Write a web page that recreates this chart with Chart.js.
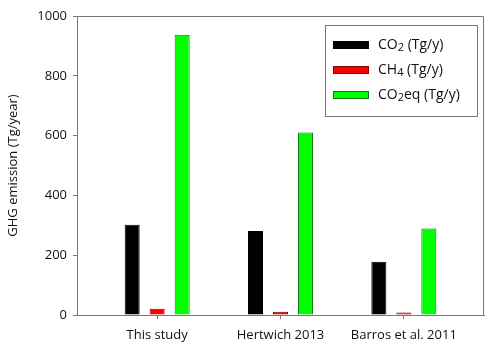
<script src="https://cdn.jsdelivr.net/npm/chart.js"></script>

<div style="width:500px; height:361px;">
    <canvas id="myChart"></canvas>
</div>

<script>
// Data
const categories = ['This study', 'Hertwich 2013', 'Barros et al. 2011'];
const co2 = [302, 281, 178];
const ch4 = [21, 11, 8];
const co2eq = [937, 610, 289];
const seriesNames = [['CO', '2', ' (Tg/y)'], ['CH', '4', ' (Tg/y)'], ['CO', '2', 'eq (Tg/y)']];
const yTicks = [0, 200, 400, 600, 800, 1000];

const FONT = 'Open Sans';
document.body.style.margin = '0';

function pts(arr) {
  return arr.map(function (v, i) { return { x: i, y: v }; });
}

// box around the plot + legend inside
const boxAndLegend = {
  id: 'boxAndLegend',
  afterDraw(chart) {
    const ctx = chart.ctx;
    const a = chart.chartArea;
    ctx.save();
    ctx.strokeStyle = '#777';
    ctx.lineWidth = 1;
    ctx.beginPath();
    ctx.moveTo(a.left, a.top + 0.5);
    ctx.lineTo(a.right - 0.5, a.top + 0.5);
    ctx.lineTo(a.right - 0.5, a.bottom);
    ctx.stroke();

    // legend box
    const lx = 325, ly = 25, lw = 152, lh = 91;
    ctx.fillStyle = '#fff';
    ctx.fillRect(lx, ly, lw, lh);
    ctx.strokeStyle = '#777';
    ctx.strokeRect(lx + 0.5, ly + 0.5, lw, lh);

    chart.data.datasets.forEach(function (ds, i) {
      const cy = 45 + i * 25;
      ctx.fillStyle = ds.backgroundColor;
      ctx.fillRect(333, cy - 4, 36, 8);
      ctx.strokeStyle = ds.borderColor;
      ctx.strokeRect(333.5, cy - 3.5, 35, 7);

      ctx.fillStyle = '#111';
      ctx.textBaseline = 'middle';
      let x = 378;
      const parts = seriesNames[i];
      ctx.font = '14px "' + FONT + '"';
      ctx.fillText(parts[0], x, cy);
      x += ctx.measureText(parts[0]).width;
      ctx.font = '11px "' + FONT + '"';
      ctx.fillText(parts[1], x, cy + 3);
      x += ctx.measureText(parts[1]).width;
      ctx.font = '14px "' + FONT + '"';
      ctx.fillText(parts[2], x, cy);
    });
    ctx.restore();
  }
};

const data = {
  datasets: [
    { label: 'CO2 (Tg/y)', data: pts(co2), backgroundColor: '#000000', borderColor: '#000000', borderWidth: 1 },
    { label: 'CH4 (Tg/y)', data: pts(ch4), backgroundColor: '#ff0000', borderColor: '#8b0000', borderWidth: 1 },
    { label: 'CO2eq (Tg/y)', data: pts(co2eq), backgroundColor: '#00ff00', borderColor: '#1a7a1a', borderWidth: 1 }
  ]
};

const config = {
  type: 'bar',
  data: data,
  plugins: [boxAndLegend],
  options: {
    responsive: false,
    animation: false,
    layout: { padding: { top: 16, right: 16, left: 5, bottom: 0 } },
    categoryPercentage: 0.608,
    barPercentage: 0.6,
    plugins: { legend: { display: false }, tooltip: { enabled: false } },
    scales: {
      x: {
        type: 'linear',
        offset: false,
        min: -0.65,
        max: 2.65,
        afterBuildTicks: function (scale) {
          scale.ticks = categories.map(function (c, i) { return { value: i }; });
        },
        afterFit: function (scale) { scale.height = 46; },
        ticks: {
          callback: function (v) { return categories[v]; },
          color: '#111',
          font: { family: FONT, size: 13 },
          padding: 8,
          maxRotation: 0,
          autoSkip: false
        },
        grid: { drawOnChartArea: false, offset: false, tickLength: 4, color: '#777' },
        border: { color: '#777' }
      },
      y: {
        min: 0,
        max: 1000,
        afterBuildTicks: function (scale) {
          scale.ticks = yTicks.map(function (v) { return { value: v }; });
        },
        afterFit: function (scale) { scale.width = 72; },
        ticks: {
          callback: function (v) { return String(v); },
          color: '#111',
          font: { family: FONT, size: 13 },
          padding: 6
        },
        grid: { drawOnChartArea: false, tickLength: 4, color: '#777' },
        border: { color: '#777' },
        title: {
          display: true,
          text: 'GHG emission (Tg/year)',
          color: '#111',
          font: { family: FONT, size: 13 },
          padding: 0
        }
      }
    }
  }
};

const canvas = document.getElementById('myChart');
canvas.width = 500;
canvas.height = 361;
var myChart = new Chart(canvas, config);
</script>
